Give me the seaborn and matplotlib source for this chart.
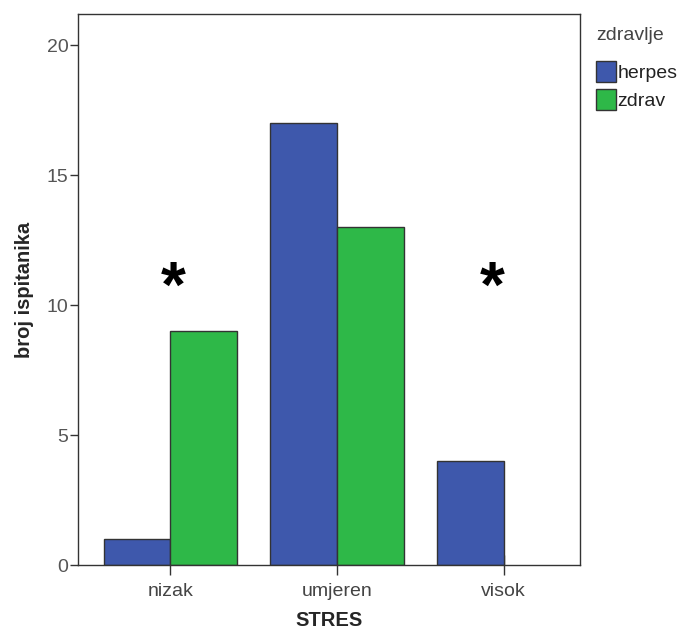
import pandas as pd
import matplotlib.pyplot as plt
import seaborn as sns
from matplotlib.patches import Patch

# Data
stres = ['nizak', 'umjeren', 'visok']
herpes = [1, 17, 4]
zdrav = [9, 13, 0]
groups = ['herpes', 'zdrav']
star_positions = ['nizak', 'visok']
star_height = 10.6

df = pd.DataFrame({
    'STRES': stres * 2,
    'zdravlje': ['herpes'] * 3 + ['zdrav'] * 3,
    'count': herpes + zdrav,
})

colors = {'herpes': '#3E58AC', 'zdrav': '#2EB848'}

sns.set_style('white')
plt.rcParams['font.family'] = ['Liberation Sans', 'DejaVu Sans']

fig = plt.figure(figsize=(6.85, 6.3), dpi=100)
ax = fig.add_axes([0.114, 0.103, 0.733, 0.875])

sns.barplot(data=df, x='STRES', y='count', hue='zdravlje', order=stres,
            hue_order=groups, palette=colors, edgecolor='#333333',
            linewidth=1, saturation=1, width=0.8, ax=ax, legend=False)

# hide the outline of empty bars
for p in ax.patches:
    if p.get_height() == 0:
        p.set_linewidth(0)

# asterisks above the significant groups
for cat in star_positions:
    xi = stres.index(cat)
    ax.text(xi + (0.02 if xi == 0 else -0.07), star_height, '*', ha='center',
            va='center', fontsize=46, fontweight='bold', color='black')

ax.set_xlim(-0.553, 2.46)
ax.set_ylim(0, 21.2)
ax.set_yticks([0, 5, 10, 15, 20])

for side in ['left', 'bottom', 'top', 'right']:
    ax.spines[side].set_visible(True)
    ax.spines[side].set_color('#333333')
    ax.spines[side].set_linewidth(1)

ax.tick_params(axis='y', direction='out', length=6, width=1, color='#333333',
               labelsize=14, labelcolor='#555555', left=True, pad=1)
ax.tick_params(axis='x', direction='inout', length=14, width=1, color='#333333',
               labelsize=14, labelcolor='#444444', bottom=True, pad=6)

ax.set_xlabel('STRES', fontsize=14.5, fontweight='bold', labelpad=8)
ax.set_ylabel('broj ispitanika', fontsize=14.5, fontweight='bold', labelpad=9)

handles = [Patch(facecolor=colors[g], edgecolor='#333333', linewidth=1, label=g)
           for g in groups]
leg = ax.legend(handles=handles, title='zdravlje', loc='upper left',
                bbox_to_anchor=(1.005, 1.0), frameon=False, fontsize=14,
                title_fontsize=14, handlelength=1.0, handleheight=1.3,
                handletextpad=0.1, labelspacing=0.35, borderaxespad=0.3)
leg._legend_box.align = 'left'
leg._legend_box.sep = 12
leg.get_title().set_color('#444444')
for t in leg.get_texts():
    t.set_color('#222222')

plt.savefig('out.png', dpi=100)
